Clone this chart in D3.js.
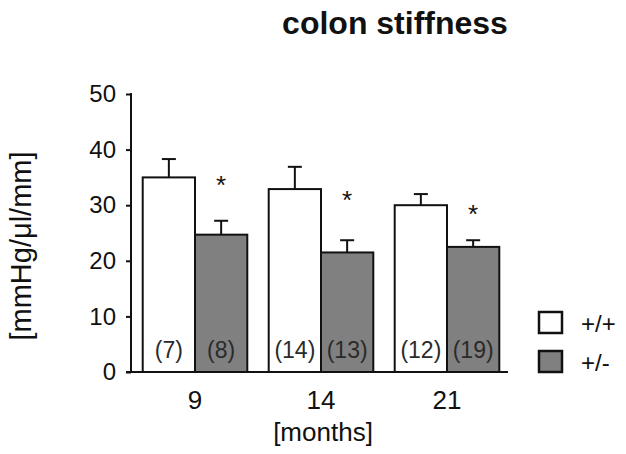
<!DOCTYPE html>
<html>
<head>
<meta charset="utf-8">
<style>
  body { margin: 0; background: white; }
  svg { display: block; font-family: "Liberation Sans", Arial, sans-serif; }
</style>
</head>
<body>
<div id="chart"></div>
<script src="https://d3js.org/d3.v7.min.js"></script>
<script>
  // data
  const months = ["9", "14", "21"];
  const groups = ["+/+", "+/-"];
  const wtMean = [35.0, 32.9, 30.0];
  const wtErr = [38.3, 36.9, 32.0];
  const hetMean = [24.7, 21.5, 22.5];
  const hetErr = [27.2, 23.7, 23.7];
  const wtN = ["(7)", "(14)", "(12)"];
  const hetN = ["(8)", "(13)", "(19)"];
  const starAt = [34.7, 32.0, 29.5];
  const yTicks = [0, 10, 20, 30, 40, 50];

  const W = 626, H = 454;
  const ink = "#111";
  const grey = "#808080";

  const svg = d3.select("#chart").append("svg")
    .attr("width", W).attr("height", H);

  const y = d3.scaleLinear().domain([0, 50]).range([372, 94]);
  const x = d3.scaleBand().domain(months).range([132, 510])
    .paddingInner(0.17).paddingOuter(0.085);
  const sub = d3.scaleBand().domain(groups).range([0, x.bandwidth()]);

  const rows = months.map((m, i) => ({
    m: m,
    bars: [
      { g: "+/+", v: wtMean[i], e: wtErr[i], n: wtN[i], fill: "white" },
      { g: "+/-", v: hetMean[i], e: hetErr[i], n: hetN[i], fill: grey }
    ],
    star: starAt[i]
  }));

  // title
  svg.append("text")
    .attr("x", 395).attr("y", 34)
    .attr("text-anchor", "middle")
    .attr("font-size", 32).attr("font-weight", "bold").attr("fill", ink)
    .text("colon stiffness");

  // y axis
  const yAxis = svg.append("g")
    .attr("transform", "translate(131,0)")
    .call(d3.axisLeft(y).tickValues(yTicks).tickSize(5).tickPadding(10));
  yAxis.select(".domain").remove();
  yAxis.selectAll(".tick line").attr("stroke", ink).attr("stroke-width", 2);
  yAxis.selectAll(".tick text")
    .attr("font-size", 24).attr("fill", ink)
    .attr("font-family", "Liberation Sans, Arial, sans-serif");
  yAxis.append("line")
    .attr("x1", 0).attr("x2", 0).attr("y1", y(50) - 1).attr("y2", y(0))
    .attr("stroke", ink).attr("stroke-width", 2);

  svg.append("text")
    .attr("transform", "translate(31,246) rotate(-90)")
    .attr("text-anchor", "middle")
    .attr("font-size", 29).attr("fill", ink)
    .text("[mmHg/\u03bcl/mm]");

  // bars
  const grp = svg.selectAll(".grp").data(rows).enter().append("g")
    .attr("class", "grp")
    .attr("transform", d => `translate(${x(d.m)},0)`);

  const bar = grp.selectAll(".bar").data(d => d.bars).enter().append("g")
    .attr("class", "bar");

  // error bars (drawn under the boxes)
  bar.append("line")
    .attr("x1", d => sub(d.g) + sub.bandwidth() / 2)
    .attr("x2", d => sub(d.g) + sub.bandwidth() / 2)
    .attr("y1", d => y(d.v)).attr("y2", d => y(d.e))
    .attr("stroke", ink).attr("stroke-width", 2);
  bar.append("line")
    .attr("x1", d => sub(d.g) + sub.bandwidth() / 2 - 7)
    .attr("x2", d => sub(d.g) + sub.bandwidth() / 2 + 7)
    .attr("y1", d => y(d.e)).attr("y2", d => y(d.e))
    .attr("stroke", ink).attr("stroke-width", 2);

  bar.append("rect")
    .attr("x", d => sub(d.g))
    .attr("y", d => y(d.v))
    .attr("width", sub.bandwidth())
    .attr("height", d => y(0) - y(d.v))
    .attr("fill", d => d.fill)
    .attr("stroke", ink).attr("stroke-width", 2);

  bar.append("text")
    .attr("x", d => sub(d.g) + sub.bandwidth() / 2)
    .attr("y", 358)
    .attr("text-anchor", "middle")
    .attr("font-size", 23).attr("fill", "#2a2a2a")
    .text(d => d.n);

  grp.append("text")
    .attr("x", sub("+/-") + sub.bandwidth() / 2)
    .attr("y", d => y(d.star) + 15)
    .attr("text-anchor", "middle")
    .attr("font-size", 26).attr("fill", ink)
    .text("*");

  // x baseline and labels
  svg.append("line")
    .attr("x1", 126).attr("x2", 508).attr("y1", y(0)).attr("y2", y(0))
    .attr("stroke", ink).attr("stroke-width", 2);

  svg.selectAll(".xlab").data(months).enter().append("text")
    .attr("class", "xlab")
    .attr("x", d => x(d) + x.bandwidth() / 2)
    .attr("y", 409)
    .attr("text-anchor", "middle")
    .attr("font-size", 26).attr("fill", ink)
    .text(d => d);

  svg.append("text")
    .attr("x", 323).attr("y", 441)
    .attr("text-anchor", "middle")
    .attr("font-size", 26).attr("fill", ink)
    .text("[months]");

  // legend
  const leg = svg.selectAll(".leg").data(groups).enter().append("g")
    .attr("class", "leg")
    .attr("transform", (d, i) => `translate(539,${312 + i * 39})`);
  leg.append("rect")
    .attr("width", 23).attr("height", 21)
    .attr("fill", (d, i) => i === 0 ? "white" : grey)
    .attr("stroke", ink).attr("stroke-width", 2.5);
  leg.append("text")
    .attr("x", 42).attr("y", 20)
    .attr("font-size", 24).attr("fill", ink)
    .text(d => d);
</script>
</body>
</html>
